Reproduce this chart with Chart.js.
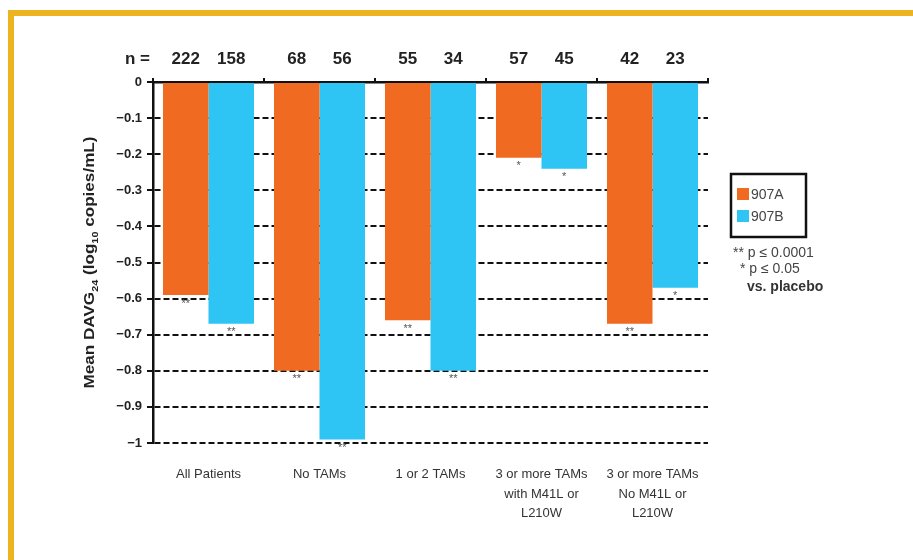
<!DOCTYPE html>
<html>
<head>
<meta charset="utf-8">
<script src="https://cdn.jsdelivr.net/npm/chart.js@4/dist/chart.umd.min.js"></script>
<style>
  html, body { margin: 0; padding: 0; background: #fff; }
  #wrap { width: 913px; height: 560px; position: relative; }
</style>
</head>
<body>
<div id="wrap"><canvas id="c" width="913" height="560"></canvas></div>
<script>
// Subgroups along the x axis (multi-line labels)
const categories = [
  ['All Patients'],
  ['No TAMs'],
  ['1 or 2 TAMs'],
  ['3 or more TAMs', 'with M41L or', 'L210W'],
  ['3 or more TAMs', 'No M41L or', 'L210W']
];
const seriesNames = ['907A', '907B'];
// Mean change in viral load (log10 copies/mL)
const values907A = [-0.59, -0.80, -0.66, -0.21, -0.67];
const values907B = [-0.67, -0.99, -0.80, -0.24, -0.57];
// Patients per bar
const n907A = [222, 68, 55, 57, 42];
const n907B = [158, 56, 34, 45, 23];
// Significance markers vs. placebo
const sig907A = ['**', '**', '**', '*', '**'];
const sig907B = ['**', '**', '**', '*', '*'];
const yTicks = [0, -0.1, -0.2, -0.3, -0.4, -0.5, -0.6, -0.7, -0.8, -0.9, -1];
// Y axis title pieces: [text, isSubscript]
const yTitleParts = [['Mean DAVG', false], ['24', true], [' (log', false], ['10', true], [' copies/mL)', false]];

const ORANGE = '#F06A22';
const BLUE = '#2EC4F3';
const FONT = '"Liberation Sans", Arial, Helvetica, sans-serif';

function fmtTick(v) {
  if (v === 0) return '0';
  const s = Math.abs(v) === 1 ? '1' : Math.abs(v).toFixed(1);
  return '\u2212' + s;
}

// Page frame, axis title, n counts, significance stars, legend and footnotes
const decor = {
  id: 'decor',
  beforeDraw(chart) {
    const ctx = chart.ctx;
    ctx.save();
    ctx.fillStyle = '#fff';
    ctx.fillRect(0, 0, chart.width, chart.height);
    ctx.fillStyle = '#EDB320';
    ctx.fillRect(8, 10, chart.width - 8, 6);
    ctx.fillRect(8, 10, 6, chart.height - 10);
    ctx.restore();
  },
  afterDatasetsDraw(chart) {
    const ctx = chart.ctx;
    const area = chart.chartArea;
    ctx.save();

    // rotated y-axis title with real subscripts, stretched to span the axis
    const mainFont = 'bold 15px ' + FONT;
    const subFont = 'bold 9.5px ' + FONT;
    let total = 0;
    yTitleParts.forEach(([t, sub]) => { ctx.font = sub ? subFont : mainFont; total += ctx.measureText(t).width; });
    const span = 252;
    ctx.save();
    ctx.translate(90, (area.top + area.bottom) / 2);
    ctx.rotate(-Math.PI / 2);
    ctx.scale(span / total, 1);
    ctx.fillStyle = '#222';
    ctx.textBaseline = 'middle';
    ctx.textAlign = 'left';
    let x = -total / 2;
    yTitleParts.forEach(([t, sub]) => {
      ctx.font = sub ? subFont : mainFont;
      ctx.fillText(t, x, sub ? 5 : 0);
      x += ctx.measureText(t).width;
    });
    ctx.restore();

    // n = counts above each bar
    ctx.fillStyle = '#222';
    ctx.font = 'bold 17px ' + FONT;
    ctx.textBaseline = 'alphabetic';
    ctx.textAlign = 'right';
    ctx.fillText('n =', 150, 64);
    ctx.textAlign = 'center';
    const metaA = chart.getDatasetMeta(0).data;
    const metaB = chart.getDatasetMeta(1).data;
    metaA.forEach((bar, i) => ctx.fillText(String(n907A[i]), bar.x, 64));
    metaB.forEach((bar, i) => ctx.fillText(String(n907B[i]), bar.x, 64));
    // significance stars just below each bar end
    ctx.fillStyle = '#555';
    ctx.font = '11px ' + FONT;
    ctx.textBaseline = 'top';
    metaA.forEach((bar, i) => ctx.fillText(sig907A[i], bar.x, bar.y + 3));
    metaB.forEach((bar, i) => ctx.fillText(sig907B[i], bar.x, bar.y + 3));

    // legend box
    const lx = 731, ly = 174, lw = 75, lh = 63;
    ctx.strokeStyle = '#111';
    ctx.lineWidth = 2.5;
    ctx.strokeRect(lx, ly, lw, lh);
    const colors = [ORANGE, BLUE];
    ctx.font = '14px ' + FONT;
    ctx.textAlign = 'left';
    ctx.textBaseline = 'middle';
    seriesNames.forEach((name, i) => {
      const cy = ly + 20 + i * 22;
      ctx.fillStyle = colors[i];
      ctx.fillRect(lx + 6, cy - 6, 12, 12);
      ctx.fillStyle = '#444';
      ctx.fillText(name, lx + 20, cy + 1);
    });

    // footnotes
    ctx.fillStyle = '#444';
    ctx.font = '14px ' + FONT;
    ctx.textBaseline = 'alphabetic';
    ctx.fillText('** p \u2264 0.0001', 733, 257);
    ctx.fillText('* p \u2264 0.05', 740, 273);
    ctx.font = 'bold 14px ' + FONT;
    ctx.fillStyle = '#333';
    ctx.fillText('vs. placebo', 747, 291);
    ctx.restore();
  }
};

new Chart(document.getElementById('c'), {
  type: 'bar',
  data: {
    labels: categories,
    datasets: [
      { label: seriesNames[0], data: values907A, backgroundColor: ORANGE, xAxisID: 'x', yAxisID: 'y' },
      { label: seriesNames[1], data: values907B, backgroundColor: BLUE, xAxisID: 'x', yAxisID: 'y' }
    ]
  },
  options: {
    responsive: false,
    animation: false,
    devicePixelRatio: 1,
    layout: { padding: { left: 0, right: 205, top: 0, bottom: 0 } },
    datasets: { bar: { categoryPercentage: 0.82, barPercentage: 1.0, borderWidth: 0 } },
    plugins: {
      legend: { display: false },
      tooltip: { enabled: false }
    },
    scales: {
      x: {
        position: 'bottom',
        grid: { display: false },
        border: { display: false },
        ticks: {
          color: '#333',
          font: { family: FONT, size: 13, lineHeight: 1.5 },
          padding: 14,
          maxRotation: 0,
          autoSkip: false
        },
        afterFit(scale) { scale.height = 560 - 443; }
      },
      xTop: {
        type: 'category',
        position: 'top',
        labels: categories.map(() => ''),
        offset: true,
        grid: {
          offset: true,
          drawOnChartArea: false,
          drawTicks: true,
          tickLength: 4,
          color: '#111',
          lineWidth: 2
        },
        border: { display: true, color: '#111', width: 2.5 },
        ticks: { display: true, padding: 0 },
        afterFit(scale) { scale.height = 82; }
      },
      y: {
        min: -1,
        max: 0,
        afterBuildTicks(scale) { scale.ticks = yTicks.map(v => ({ value: v })); },
        ticks: {
          color: '#222',
          font: { family: FONT, size: 13, weight: 'bold' },
          padding: 5,
          callback: v => fmtTick(v)
        },
        grid: {
          color: '#111',
          lineWidth: 2,
          tickBorderDash: [],
          tickLength: 6,
          drawTicks: true
        },
        border: { display: true, color: '#111', width: 2.5, dash: [6, 3] },
        title: { display: false },
        afterFit(scale) { scale.width = 153; }
      }
    }
  },
  plugins: [decor]
});
</script>
</body>
</html>
